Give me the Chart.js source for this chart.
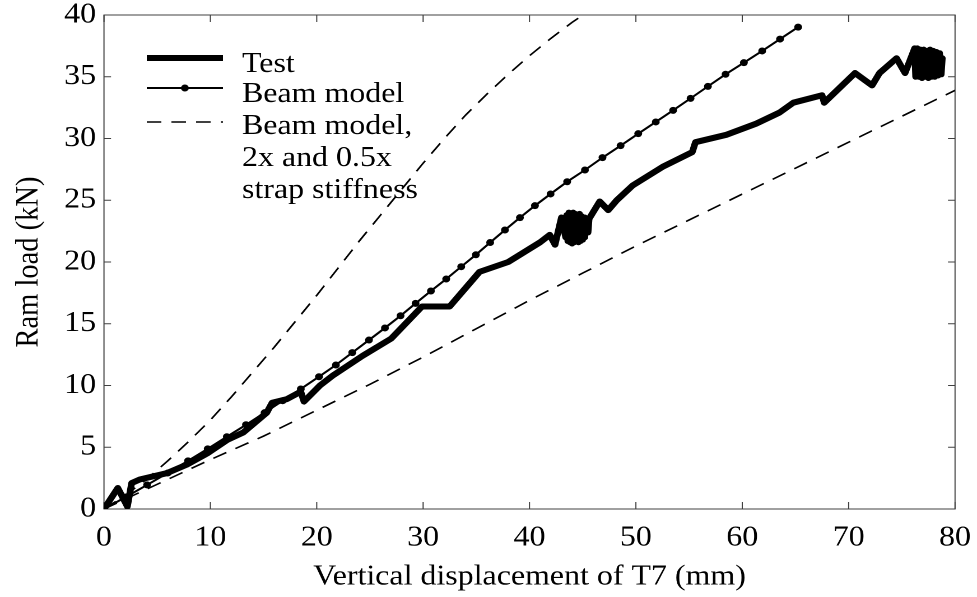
<!DOCTYPE html>
<html>
<head>
<meta charset="utf-8">
<script src="https://cdn.jsdelivr.net/npm/chart.js@4.4.0/dist/chart.umd.min.js"></script>
<style>
  html, body { margin: 0; padding: 0; background: #fff; overflow: hidden; }
  #wrap { width: 872px; height: 597px; transform: scaleX(1.1204); transform-origin: 0 0; }
</style>
</head>
<body>
<div id="wrap"><canvas id="chart"></canvas></div>
<script>
// measured ram load vs vertical displacement of T7
const testX = [0, 1.3, 2.2, 2.6, 3.4, 5.9, 7.8, 9.7, 11.6, 13.1, 15.3, 15.8, 17.2, 18.5, 18.8, 20.3, 21.5, 24.3, 27.0, 29.9,
  32.5, 35.3, 38.0, 41.0, 41.9, 42.4, 43.0,
  43.4, 43.5, 43.6, 43.7, 43.8, 43.9, 44.0, 44.1, 44.2, 44.3, 44.4, 44.5, 44.6, 44.7, 44.8, 44.9, 45.0, 45.1, 45.2, 45.3,
  45.5, 45.6,
  46.6, 47.4, 48.2, 49.7, 52.5, 55.3, 55.6, 58.5, 61.3, 63.5, 64.8, 67.5, 67.7, 70.6, 72.2, 72.9, 74.5, 75.3, 76.2,
  76.3, 76.45, 76.6, 76.75, 76.9, 77.05, 77.2, 77.35, 77.5, 77.65, 77.8, 77.95, 78.1, 78.25, 78.4, 78.55, 78.7, 78.8];
const testY = [0, 1.7, 0.2, 2.1, 2.4, 2.9, 3.6, 4.5, 5.6, 6.2, 7.8, 8.6, 8.9, 9.5, 8.7, 10.0, 10.8, 12.4, 13.8, 16.4,
  16.4, 19.2, 20.0, 21.6, 22.2, 21.4, 23.6,
  22.0, 23.8, 21.7, 24.0, 21.6, 23.9, 21.5, 24.0, 21.6, 23.9, 21.7, 23.8, 21.6, 23.9, 21.7, 23.7, 21.8, 23.6, 22.0, 23.5,
  22.4, 23.5,
  24.9, 24.2, 25.0, 26.2, 27.7, 28.9, 29.7, 30.3, 31.2, 32.1, 32.9, 33.5, 32.9, 35.3, 34.3, 35.3, 36.5, 35.3, 37.3,
  35.0, 37.3, 35.0, 37.2, 34.9, 37.2, 35.0, 37.1, 34.9, 37.2, 35.0, 37.1, 35.0, 37.0, 35.1, 36.9, 35.2, 36.5];

// beam model, one point per load step
const beamX = [0, 2.05, 4.05, 6.0, 7.9, 9.75, 11.55, 13.35, 15.1, 16.8, 18.5, 20.21, 21.8, 23.34, 24.91, 26.41, 27.88,
  29.29, 30.73, 32.17, 33.58, 34.96, 36.3, 37.69, 39.1, 40.51, 41.98, 43.54, 45.21, 46.86, 48.56, 50.22, 51.87, 53.5,
  55.14, 56.77, 58.43, 60.15, 61.87, 63.55, 65.25];
const beamY = [0, 0.97, 1.95, 2.92, 3.9, 4.87, 5.85, 6.82, 7.8, 8.77, 9.72, 10.71, 11.66, 12.66, 13.68, 14.66, 15.65,
  16.65, 17.65, 18.62, 19.62, 20.59, 21.58, 22.59, 23.59, 24.56, 25.51, 26.5, 27.45, 28.45, 29.42, 30.39, 31.34, 32.28,
  33.25, 34.22, 35.2, 36.14, 37.09, 38.05, 39.02];

// beam model with 2x strap stiffness
const stiffX = [0, 2, 4, 6, 8, 10, 12, 14, 16, 18, 20, 22, 24, 26, 28, 30, 32, 34, 36, 38, 40, 42, 44, 45.2];
const stiffY = [0, 1.1, 2.4, 3.9, 5.5, 7.2, 9.1, 11.1, 13.1, 15.2, 17.3, 19.5, 21.7, 23.8, 25.9, 28.0, 30.0, 31.9,
  33.6, 35.2, 36.7, 38.1, 39.4, 40.1];

// beam model with 0.5x strap stiffness
const softX = [0, 5, 10, 15, 20, 25, 30, 35, 40, 45, 50, 55, 60, 65, 70, 75, 80];
const softY = [0, 2.0, 4.0, 5.9, 8.0, 10.1, 12.3, 14.6, 16.9, 19.1, 21.3, 23.4, 25.5, 27.6, 29.7, 31.8, 33.9];

const xTicks = [0, 10, 20, 30, 40, 50, 60, 70, 80];
const yTicks = [0, 5, 10, 15, 20, 25, 30, 35, 40];

const legendRows = ['Test', 'Beam model', 'Beam model,', '2x and 0.5x', 'strap stiffness'];

const pts = (xs, ys) => xs.map((x, i) => ({ x: x, y: ys[i] }));
const serif = { family: '"Liberation Serif", "Times New Roman", serif', size: 28.5 };
const dash = [13, 9];

// box round the plot with inward ticks on every side
const frame = {
  id: 'frame',
  beforeDatasetsDraw(chart) {
    const { ctx, chartArea: a, scales: { x, y } } = chart;
    ctx.save();
    ctx.strokeStyle = '#404040';
    ctx.lineWidth = 1;
    ctx.strokeRect(a.left, a.top, a.right - a.left, a.bottom - a.top);
    ctx.beginPath();
    x.ticks.forEach(t => {
      const px = x.getPixelForValue(t.value);
      ctx.moveTo(px, a.bottom); ctx.lineTo(px, a.bottom - 7);
      ctx.moveTo(px, a.top); ctx.lineTo(px, a.top + 7);
    });
    y.ticks.forEach(t => {
      const py = y.getPixelForValue(t.value);
      ctx.moveTo(a.left, py); ctx.lineTo(a.left + 6.3, py);
      ctx.moveTo(a.right, py); ctx.lineTo(a.right - 6.3, py);
    });
    ctx.stroke();
    ctx.restore();
  }
};

// legend in the upper left corner
const keyBox = {
  id: 'keyBox',
  afterDraw(chart) {
    const ctx = chart.ctx;
    const x0 = 131, x1 = 199, tx = 216;
    ctx.save();
    ctx.strokeStyle = '#000';
    ctx.lineCap = 'butt';

    ctx.lineWidth = 6;
    ctx.beginPath(); ctx.moveTo(x0, 58); ctx.lineTo(x1, 58); ctx.stroke();

    ctx.lineWidth = 2;
    ctx.beginPath(); ctx.moveTo(x0, 88); ctx.lineTo(x1, 88); ctx.stroke();
    ctx.beginPath(); ctx.arc((x0 + x1) / 2, 88, 3.5, 0, Math.PI * 2); ctx.fillStyle = '#000'; ctx.fill();

    ctx.lineWidth = 1.6;
    ctx.setLineDash(dash);
    ctx.beginPath(); ctx.moveTo(x0, 122); ctx.lineTo(x1, 122); ctx.stroke();
    ctx.setLineDash([]);

    ctx.font = `${serif.size}px ${serif.family}`;
    ctx.fillStyle = '#000';
    ctx.textBaseline = 'alphabetic';
    const base = [72, 102, 134, 166, 198];
    legendRows.forEach((s, i) => ctx.fillText(s, tx, base[i]));
    ctx.restore();
  }
};

new Chart(document.getElementById('chart'), {
  type: 'line',
  data: {
    datasets: [
      { label: 'Test', data: pts(testX, testY), borderColor: '#000', borderWidth: 6, pointRadius: 0,
        borderJoinStyle: 'round', borderCapStyle: 'round' },
      { label: 'Beam model', data: pts(beamX, beamY), borderColor: '#000', borderWidth: 2, pointRadius: 3.5,
        pointBackgroundColor: '#000', pointBorderWidth: 0 },
      { label: '2x', data: pts(stiffX, stiffY), borderColor: '#000', borderWidth: 1.6, borderDash: dash, pointRadius: 0 },
      { label: '0.5x', data: pts(softX, softY), borderColor: '#000', borderWidth: 1.6, borderDash: dash, pointRadius: 0 }
    ]
  },
  options: {
    responsive: true,
    maintainAspectRatio: false,
    animation: false,
    devicePixelRatio: 2,
    layout: { padding: { left: 0, right: 19.6, top: 15, bottom: 0 } },
    plugins: { legend: { display: false }, tooltip: { enabled: false } },
    scales: {
      x: {
        type: 'linear', min: 0, max: 80,
        afterBuildTicks: s => { s.ticks = xTicks.map(v => ({ value: v })); },
        afterFit: s => { s.height = 88; s.paddingLeft = 0; s.paddingRight = 0; },
        grid: { display: false, drawTicks: false },
        border: { display: false },
        ticks: { font: serif, color: '#000', padding: 12, maxRotation: 0, autoSkip: false },
        title: { display: true, text: 'Vertical displacement of T7 (mm)', font: serif, color: '#000', padding: { top: 4, bottom: 3 } }
      },
      y: {
        type: 'linear', min: 0, max: 40,
        afterBuildTicks: s => { s.ticks = yTicks.map(v => ({ value: v })); },
        afterFit: s => { s.width = 92.8; s.paddingTop = 0; s.paddingBottom = 0; },
        grid: { display: false, drawTicks: false },
        border: { display: false },
        ticks: { font: serif, color: '#000', padding: 7, autoSkip: false },
        title: { display: true, text: 'Ram load (kN)', font: serif, color: '#000', padding: { top: 9, bottom: 0 } }
      }
    }
  },
  plugins: [frame, keyBox]
});
</script>
</body>
</html>
